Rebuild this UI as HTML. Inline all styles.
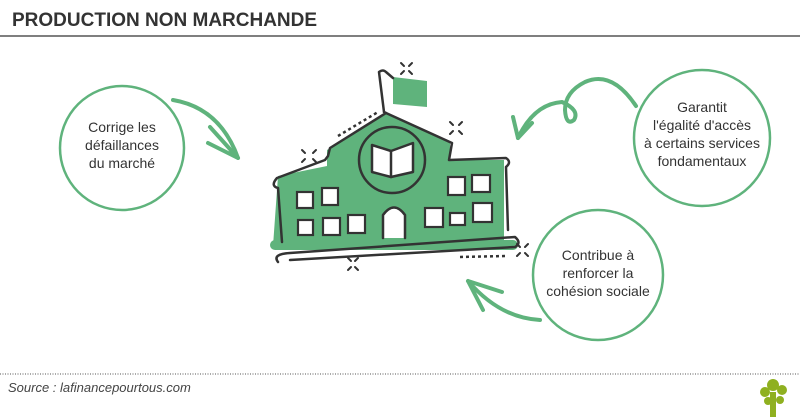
<html><head><style>body{margin:0;background:#fff;font-family:"Liberation Sans",sans-serif}</style></head><body>
<svg width="800" height="417" viewBox="0 0 800 417" xmlns="http://www.w3.org/2000/svg">
<text x="12" y="26" font-size="19" font-weight="bold" fill="#333">PRODUCTION NON MARCHANDE</text>
<line x1="0" y1="36" x2="800" y2="36" stroke="#333" stroke-width="1.2"/>
<line x1="0" y1="374" x2="800" y2="374" stroke="#555" stroke-width="1" stroke-dasharray="1 1.5"/>
<text x="8" y="392" font-size="13" font-style="italic" fill="#444">Source : lafinancepourtous.com</text>
<g fill="#8fb020"><rect x="770" y="392" width="6" height="25"/><circle cx="773" cy="385" r="6"/><circle cx="765" cy="392" r="5"/><circle cx="782" cy="390" r="5"/><circle cx="768" cy="401" r="4"/><circle cx="780" cy="400" r="4"/></g>
<g fill="none" stroke="#5fb37c" stroke-width="2.5" stroke-linecap="round">
<circle cx="122" cy="148" r="62"/><circle cx="702" cy="138" r="68"/><circle cx="598" cy="275" r="65"/>
</g>
<g fill="none" stroke="#5fb37c" stroke-width="4" stroke-linecap="round" stroke-linejoin="round">
<path d="M173 100 Q220 108 238 158"/><path d="M210 127 L238 158 L208 143"/>
<path d="M636 106 Q612 70 585 82 Q565 92 565 110 Q566 126 574 120 Q580 110 562 102 Q534 104 518 138"/><path d="M513 117 L518 138 L532 123"/>
<path d="M540 320 Q500 318 468 281"/><path d="M502 292 L468 281 L483 310"/>
</g>
<g stroke="#333" stroke-width="2.5" fill="none" stroke-linecap="round" stroke-linejoin="round">
<polygon points="393,77 427,81 427,107 393,104" fill="#5fb37c" stroke="none"/>
<path d="M278 176 L327 166 L327 150 L386 113 L450 142 L450 160 L504 160 L504 240 L273 246 Z" fill="#5fb37c" stroke="none"/>
<rect x="270" y="240" width="248" height="10" rx="5" fill="#5fb37c" stroke="none"/>
<path d="M384 112 L379 72 Q383 69 386 72 L393 78"/>
<path d="M384 112 L386 113 L330 148 L328 156 L325 160 L277 178 Q270 186 278 188 L282 242"/>
<path d="M386 113 L452 143 L449 160 L506 158 Q512 162 506 167 L508 230"/>
<path d="M278 262 Q272 254 290 253 L515 237 Q522 243 515 247 L290 260"/>
<circle cx="392" cy="160" r="33" fill="#5fb37c"/>
<path d="M372 145 L391 151 L413 143 L413 172 L391 177 L372 172 Z" fill="#fff"/>
<line x1="391" y1="151" x2="391" y2="177"/>
<path d="M383 238 L383 215 Q394 200 405 215 L405 238" fill="#fff"/>
</g>
<g fill="#fff" stroke="#333" stroke-width="2.2">
<rect x="297" y="192" width="16" height="16"/><rect x="322" y="188" width="16" height="17"/>
<rect x="298" y="220" width="15" height="15"/><rect x="323" y="218" width="17" height="17"/><rect x="348" y="215" width="17" height="18"/>
<rect x="448" y="177" width="17" height="18"/><rect x="472" y="175" width="18" height="17"/>
<rect x="425" y="208" width="18" height="19"/><rect x="450" y="213" width="15" height="12"/><rect x="473" y="203" width="19" height="19"/>
</g>
<g stroke="#333" stroke-width="2.5" stroke-dasharray="3 3"><path d="M338 136 L378 112"/><path d="M460 257 L505 256"/></g>
<g stroke="#333" stroke-width="2" stroke-linecap="round">
<path d="M401 63 L404 66 M412 63 L409 66 M401 74 L404 71 M412 74 L409 71"/>
<path d="M450 122 L453 125 M462 122 L459 125 M450 134 L453 131 M462 134 L459 131"/>
<path d="M302 150 L305 153 M316 150 L313 153 M302 162 L305 159 M316 162 L313 159"/>
<path d="M348 258 L351 261 M358 258 L355 261 M348 270 L351 267 M358 270 L355 267"/>
<path d="M517 244 L520 247 M528 244 L525 247 M517 256 L520 253 M528 256 L525 253"/>
</g>
<g font-size="14" fill="#333" text-anchor="middle">
<text x="122" y="132">Corrige les</text><text x="122" y="150">défaillances</text><text x="122" y="168">du marché</text>
<text x="702" y="112">Garantit</text><text x="702" y="130">l'égalité d'accès</text><text x="702" y="148">à certains services</text><text x="702" y="166">fondamentaux</text>
<text x="598" y="260">Contribue à</text><text x="598" y="278">renforcer la</text><text x="598" y="296">cohésion sociale</text>
</g>
</svg>
</body></html>
